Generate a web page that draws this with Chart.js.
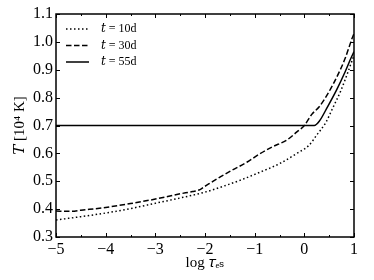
<!DOCTYPE html>
<html>
<head>
<meta charset="utf-8">
<script src="https://cdn.jsdelivr.net/npm/chart.js@4.4.1/dist/chart.umd.min.js"></script>
<style>
  html, body { margin: 0; padding: 0; background: #fff; }
  #wrap { width: 374px; height: 280px; }
</style>
</head>
<body>
<div id="wrap"><canvas id="c" width="374" height="280"></canvas></div>
<script>
// ---- data ----
const logTau10 = [-5, -4.5, -4, -3.5, -3, -2.5, -2, -1.7, -1.3, -0.9, -0.5, -0.15, 0.1, 0.25, 0.43, 0.57, 0.74, 0.875, 1];
const temp10   = [0.361, 0.373, 0.386, 0.402, 0.421, 0.44, 0.461, 0.478, 0.503, 0.532, 0.563, 0.6, 0.63, 0.666, 0.71, 0.762, 0.827, 0.89, 0.952];

const logTau30 = [-5, -4.7, -4.5, -4, -3.5, -3, -2.5, -2.25, -2.1, -2, -1.9, -1.7, -1.45, -1.15, -0.9, -0.65, -0.35, -0.15, 0, 0.15, 0.3, 0.5, 0.67, 0.82, 0.96, 1];
const temp30   = [0.393, 0.392, 0.396, 0.406, 0.42, 0.436, 0.455, 0.463, 0.47, 0.482, 0.493, 0.515, 0.54, 0.569, 0.598, 0.623, 0.648, 0.677, 0.70, 0.74, 0.767, 0.822, 0.88, 0.94, 1.012, 1.03];

const logTau55 = [-5, 0.2, 0.3, 0.47, 0.65, 0.82, 0.94, 1];
const temp55   = [0.7, 0.7, 0.715, 0.768, 0.828, 0.892, 0.942, 0.965];

const seriesLabels = ['\u{1D461} = 10d', '\u{1D461} = 30d', '\u{1D461} = 55d'];
const xTickValues = [-5, -4, -3, -2, -1, 0, 1];
const yTickValues = [0.3, 0.4, 0.5, 0.6, 0.7, 0.8, 0.9, 1.0, 1.1];
const xTitle = 'log \u{1D70F}\u2091\u209B';
const yTitle = '\u{1D447} [10\u2074 K]';

const toPts = (xs, ys) => xs.map((x, i) => ({ x: x, y: ys[i] }));
const FONT = "'Liberation Serif', 'DejaVu Serif', serif";

const frameTicks = {
  id: 'frameTicks',
  afterDatasetsDraw(chart) {
    const { ctx, chartArea: a, scales: { x, y } } = chart;
    ctx.save();
    ctx.strokeStyle = '#000';
    ctx.lineWidth = 1;
    ctx.setLineDash([]);
    ctx.beginPath();
    const xt = x.ticks.map(t => t.value);
    xt.forEach((v, i) => {
      const px = Math.round(x.getPixelForValue(v)) + 0.5;
      ctx.moveTo(px, a.bottom); ctx.lineTo(px, a.bottom - 4);
      ctx.moveTo(px, a.top); ctx.lineTo(px, a.top + 4);
      if (i < xt.length - 1) {
        const pm = Math.round(x.getPixelForValue((v + xt[i + 1]) / 2)) + 0.5;
        ctx.moveTo(pm, a.bottom); ctx.lineTo(pm, a.bottom - 2);
        ctx.moveTo(pm, a.top); ctx.lineTo(pm, a.top + 2);
      }
    });
    y.ticks.forEach(t => {
      const py = Math.round(y.getPixelForValue(t.value)) + 0.5;
      ctx.moveTo(a.left, py); ctx.lineTo(a.left + 4, py);
      ctx.moveTo(a.right, py); ctx.lineTo(a.right - 4, py);
    });
    ctx.stroke();
    ctx.lineWidth = 1.5;
    ctx.strokeRect(a.left, a.top, a.right - a.left, a.bottom - a.top);
    ctx.restore();
  }
};

const legendPlace = {
  id: 'legendPlace',
  afterLayout(chart) {
    const lg = chart.legend, a = chart.chartArea;
    if (lg && a) {
      lg.left = a.left + 5.5;
      lg.top = a.top + 4.5;
    }
  }
};

new Chart(document.getElementById('c'), {
  type: 'line',
  data: {
    datasets: [
      { label: seriesLabels[0], data: toPts(logTau10, temp10), borderColor: '#000', borderWidth: 1.5, borderDash: [1.5, 2.5], pointRadius: 0, cubicInterpolationMode: 'monotone', fill: false },
      { label: seriesLabels[1], data: toPts(logTau30, temp30), borderColor: '#000', borderWidth: 1.5, borderDash: [5.5, 2.5], pointRadius: 0, cubicInterpolationMode: 'monotone', fill: false },
      { label: seriesLabels[2], data: toPts(logTau55, temp55), borderColor: '#000', borderWidth: 1.5, borderDash: [], pointRadius: 0, cubicInterpolationMode: 'monotone', fill: false }
    ]
  },
  options: {
    responsive: false,
    animation: false,
    devicePixelRatio: 1,
    layout: { padding: { top: 14, right: 20, left: 0, bottom: 0 } },
    plugins: {
      tooltip: { enabled: false },
      legend: {
        position: 'chartArea',
        align: 'start',
        labels: {
          usePointStyle: true,
          pointStyle: 'line',
          pointStyleWidth: 23,
          boxHeight: 12,
          padding: 4.5,
          color: '#000',
          font: { family: FONT, size: 12 },
          generateLabels(chart) {
            return chart.data.datasets.map((ds, i) => ({
              text: '  ' + ds.label,
              fillStyle: '#000',
              strokeStyle: '#000',
              lineWidth: 1.5,
              lineDash: ds.borderDash,
              pointStyle: 'line',
              rotation: 0,
              hidden: false,
              datasetIndex: i,
              fontColor: '#000'
            }));
          }
        }
      }
    },
    scales: {
      x: {
        type: 'linear',
        min: -5, max: 1,
        afterBuildTicks(s) { s.ticks = xTickValues.map(v => ({ value: v })); },
        afterFit(s) { s.height = 43; },
        grid: { display: false, drawTicks: false },
        border: { display: false },
        ticks: {
          padding: 3,
          color: '#000',
          font: { family: FONT, size: 16 },
          maxRotation: 0,
          callback: v => (v < 0 ? '\u2212' + Math.abs(v) : String(v))
        },
        title: {
          display: true, text: xTitle, color: '#000',
          font: { family: FONT, size: 15 },
          padding: { top: 0, bottom: 8 }
        }
      },
      y: {
        type: 'linear',
        min: 0.3, max: 1.1,
        afterBuildTicks(s) { s.ticks = yTickValues.map(v => ({ value: v })); },
        afterFit(s) { s.width = 56; },
        grid: { display: false, drawTicks: false },
        border: { display: false },
        ticks: {
          padding: 3,
          color: '#000',
          font: { family: FONT, size: 16 },
          callback: v => Number(v).toFixed(1)
        },
        title: {
          display: true, text: yTitle, color: '#000',
          font: { family: FONT, size: 15 },
          padding: { top: 11, bottom: 0 }
        }
      }
    }
  },
  plugins: [frameTicks, legendPlace]
});
</script>
</body>
</html>
